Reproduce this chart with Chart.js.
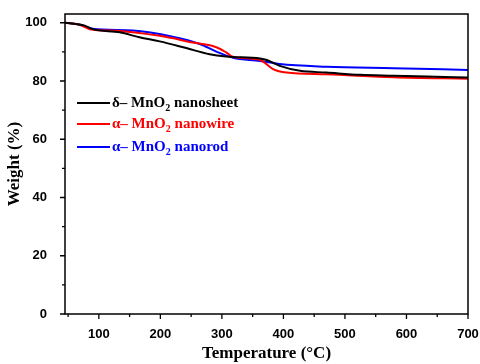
<!DOCTYPE html>
<html>
<head>
<meta charset="utf-8">
<script src="https://cdn.jsdelivr.net/npm/chart.js@4"></script>
<style>
  html, body { margin: 0; padding: 0; background: #fff; }
  #wrap { width: 480px; height: 364px; }
</style>
</head>
<body>
<div id="wrap"><canvas id="tga"></canvas></div>
<script>
// temperature (°C) and weight (%)
var sheetT = [45, 77, 90, 134, 166, 199, 242, 280, 307, 362, 373, 394, 427, 470, 525, 579, 633, 700];
var sheetW = [100, 99.0, 97.8, 96.7, 95.0, 93.6, 91.3, 89.2, 88.4, 87.7, 87.2, 85.2, 83.5, 82.9, 82.1, 81.8, 81.5, 81.2];

var wireT = [45, 70, 85, 134, 199, 253, 291, 307, 318, 362, 383, 405, 470, 579, 700];
var wireW = [100, 99.2, 97.8, 97.2, 95.5, 93.2, 91.6, 89.8, 88.3, 87.2, 84.1, 82.9, 82.3, 81.3, 80.8];

var rodT = [45, 70, 90, 155, 220, 264, 291, 318, 362, 394, 470, 579, 700];
var rodW = [100, 99.3, 97.9, 97.3, 95.2, 92.7, 90.1, 88.0, 86.9, 85.8, 84.9, 84.4, 83.8];

var xTicks = [100, 200, 300, 400, 500, 600, 700];
var yTicks = [0, 20, 40, 60, 80, 100];

// legend labels: [before subscript, subscript, after]
var names = [
  ['δ– MnO', '2', ' nanosheet'],
  ['α– MnO', '2', ' nanowire'],
  ['α– MnO', '2', ' nanorod']
];
var colors = ['#000000', '#ff0000', '#0000ff'];

function pts(t, w) {
  return t.map(function (v, i) { return { x: v, y: w[i] }; });
}

var frame = {
  id: 'frame',
  afterDraw: function (c) {
    var g = c.ctx, a = c.chartArea, xs = c.scales.x, ys = c.scales.y;
    g.save();
    g.strokeStyle = '#000';
    g.lineWidth = 1.5;
    g.strokeRect(a.left, a.top, a.right - a.left, a.bottom - a.top);
    g.lineWidth = 1.3;
    g.beginPath();
    for (var t = 50; t <= 700; t += 50) {
      var px = xs.getPixelForValue(t), len = (t % 100 === 0) ? 5 : 3;
      g.moveTo(px, a.bottom); g.lineTo(px, a.bottom + len);
    }
    for (var v = 0; v <= 100; v += 10) {
      var py = ys.getPixelForValue(v), ln = (v % 20 === 0) ? 5 : 3;
      g.moveTo(a.left, py); g.lineTo(a.left - ln, py);
    }
    g.stroke();

    // legend with subscripts
    var rows = [103, 124, 147];
    names.forEach(function (n, i) {
      var y = rows[i];
      g.strokeStyle = colors[i];
      g.lineWidth = 2;
      g.beginPath(); g.moveTo(77, y); g.lineTo(110, y); g.stroke();
      g.fillStyle = colors[i];
      g.textBaseline = 'middle';
      g.font = 'bold 15px "Liberation Serif", serif';
      var x = 112;
      g.fillText(n[0], x, y);
      x += g.measureText(n[0]).width;
      g.font = 'bold 10px "Liberation Serif", serif';
      g.fillText(n[1], x, y + 5);
      x += g.measureText(n[1]).width;
      g.font = 'bold 15px "Liberation Serif", serif';
      g.fillText(n[2], x, y);
    });
    g.restore();
  }
};

var tickFont = { family: '"Liberation Sans", Arial, sans-serif', size: 13, weight: 'bold' };
var titleFont = { family: '"Liberation Serif", "Times New Roman", serif', size: 17, weight: 'bold' };

new Chart(document.getElementById('tga'), {
  type: 'line',
  data: {
    datasets: [
      { data: pts(sheetT, sheetW), borderColor: colors[0] },
      { data: pts(wireT, wireW), borderColor: colors[1] },
      { data: pts(rodT, rodW), borderColor: colors[2] }
    ]
  },
  options: {
    responsive: true,
    maintainAspectRatio: false,
    animation: false,
    layout: { padding: { top: 14, right: 0, left: 0, bottom: 0 } },
    elements: {
      point: { radius: 0 },
      line: { borderWidth: 2, tension: 0.4, cubicInterpolationMode: 'monotone' }
    },
    plugins: { legend: { display: false }, tooltip: { enabled: false } },
    scales: {
      x: {
        type: 'linear',
        min: 45, max: 700,
        afterBuildTicks: function (s) { s.ticks = xTicks.map(function (v) { return { value: v }; }); },
        afterFit: function (s) { s.height = 50; s.paddingRight = 12; s.paddingLeft = 0; },
        grid: { display: false },
        border: { display: false },
        ticks: { color: '#000', font: tickFont, padding: 5, maxRotation: 0 },
        title: { display: true, text: 'Temperature (°C)', color: '#000', font: titleFont, padding: { top: 0, bottom: 0 } }
      },
      y: {
        min: 0, max: 103,
        afterBuildTicks: function (s) { s.ticks = yTicks.map(function (v) { return { value: v }; }); },
        afterFit: function (s) { s.width = 65; s.paddingTop = 0; s.paddingBottom = 0; },
        grid: { display: false },
        border: { display: false },
        ticks: { color: '#000', font: tickFont, padding: 10 },
        title: { display: true, text: 'Weight (%)', color: '#000', font: titleFont }
      }
    }
  },
  plugins: [frame]
});
</script>
</body>
</html>
